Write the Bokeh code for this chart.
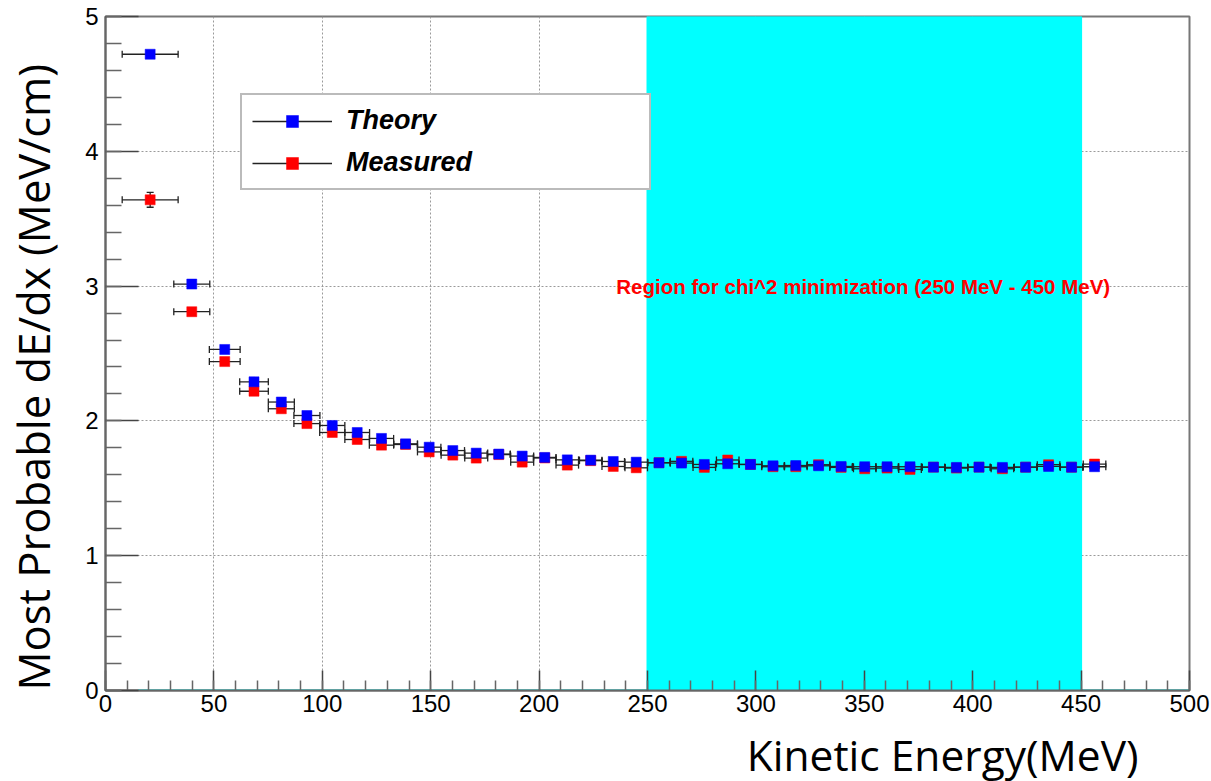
import numpy as np
from bokeh.plotting import figure
from bokeh.models import (ColumnDataSource, Label, Legend, LegendItem, Title,
                          SingleIntervalTicker, Range1d)
from bokeh.embed import file_html
from bokeh.resources import INLINE

# ---------------- data ----------------
kinetic_energy = [20.6, 39.8, 55.0, 68.5, 81.1, 92.9, 104.6, 116.1, 127.3, 138.4,
                  149.3, 160.2, 171.0, 181.4, 192.2, 202.6, 213.0, 223.8, 234.2, 244.8,
                  255.3, 265.7, 276.2, 287.0, 297.5, 307.9, 318.4, 328.9, 339.3, 350.2,
                  360.5, 371.1, 381.9, 392.5, 402.9, 413.7, 424.4, 435.0, 445.6, 456.2]
energy_halfwidth = [12.9, 8.3, 7.1, 6.6, 6.0, 6.0, 5.8, 5.7, 5.6, 5.5,
                    5.4, 5.4, 5.3, 5.3, 5.3, 5.2, 5.2, 5.2, 5.2, 5.2,
                    5.2, 5.2, 5.2, 5.2, 5.2, 5.2, 5.2, 5.2, 5.2, 5.2,
                    5.2, 5.2, 5.2, 5.2, 5.2, 5.2, 5.2, 5.2, 5.2, 5.2]
theory = [4.72, 3.015, 2.53, 2.29, 2.14, 2.04, 1.966, 1.914, 1.87, 1.83,
          1.805, 1.78, 1.761, 1.754, 1.739, 1.729, 1.711, 1.709, 1.699, 1.694,
          1.689, 1.687, 1.677, 1.682, 1.677, 1.667, 1.669, 1.667, 1.662, 1.66,
          1.66, 1.66, 1.657, 1.655, 1.657, 1.655, 1.657, 1.662, 1.657, 1.66]
theory_err = [0.0] * 40
measured = [3.64, 2.81, 2.44, 2.22, 2.09, 1.98, 1.914, 1.862, 1.82, 1.825,
            1.77, 1.746, 1.724, 1.75, 1.694, 1.725, 1.672, 1.705, 1.662, 1.652,
            1.69, 1.70, 1.655, 1.71, 1.677, 1.66, 1.66, 1.675, 1.655, 1.645,
            1.65, 1.64, 1.657, 1.65, 1.657, 1.645, 1.657, 1.675, 1.657, 1.68]
measured_err = [0.055, 0.025] + [0.02] * 38

# chi^2 region histogram (bin edges / contents)
region_edges = [15, 250, 450, 500]
region_heights = [0, 5, 0]
region_text = "Region for chi^2 minimization (250 MeV - 450 MeV)"

x_title = "Kinetic Energy(MeV)"
y_title = "Most Probable dE/dx (MeV/cm)"
x_ticks_interval = 50
y_ticks_interval = 1

# ---------------- figure ----------------
p = figure(width=1211, height=781, output_backend="svg", toolbar_location=None,
           x_range=Range1d(0, 500), y_range=Range1d(0, 5),
           min_border_left=105, min_border_right=22, min_border_top=16,
           min_border_bottom=91)
p.background_fill_color = "white"
p.border_fill_color = "white"
p.outline_line_color = "#777777"
p.outline_line_width = 2

# grid
for g in (p.xgrid, p.ygrid):
    g.grid_line_color = "#9a9a9a"
    g.grid_line_dash = "2 2"
    g.grid_line_width = 1

# axes
p.xaxis.ticker = SingleIntervalTicker(interval=x_ticks_interval, num_minor_ticks=5)
p.yaxis.ticker = SingleIntervalTicker(interval=y_ticks_interval, num_minor_ticks=5)
for ax in (p.xaxis, p.yaxis):
    ax.axis_line_color = "#666666"
    ax.axis_line_width = 2
    ax.major_tick_line_color = "#444444"
    ax.minor_tick_line_color = "#666666"
    ax.major_tick_line_width = 1.5
    ax.minor_tick_line_width = 1.5
    ax.major_tick_out = 0
    ax.minor_tick_out = 0
    ax.major_label_text_font = "Liberation Sans"
    ax.major_label_text_font_size = "24px"
    ax.major_label_text_color = "black"
    # invisible spacer label, only to push the big titles outward
    ax.axis_label = " "
    ax.axis_label_text_font_size = "1px"
p.xaxis.axis_label_standoff = 7
p.yaxis.axis_label_standoff = 15
p.xaxis.major_tick_in = 20
p.xaxis.minor_tick_in = 10
p.yaxis.major_tick_in = 33
p.yaxis.minor_tick_in = 16
p.xaxis.major_label_standoff = 4
p.yaxis.major_label_standoff = 7

# axis titles as side-panel titles (aligned like the reference)
xt = Title(text=x_title, align="right", offset=51, standoff=-4,
           vertical_align="bottom",
           text_font="Open Sans", text_font_size="42.5px", text_font_style="normal",
           text_color="black")
p.add_layout(xt, "below")
yt = Title(text=y_title, align="left", offset=0, standoff=2,
           vertical_align="bottom",
           text_font="Open Sans", text_font_size="43.5px", text_font_style="normal",
           text_color="black")
p.add_layout(yt, "left")

# chi^2 region
edges = np.array(region_edges, dtype=float)
p.quad(left=edges[:-1], right=edges[1:], bottom=[0] * len(region_heights),
       top=region_heights, fill_color="#00FFFF", line_color="#00FFFF", line_width=2)


def draw_series(yvals, yerr, color):
    x = np.array(kinetic_energy)
    xe = np.array(energy_halfwidth)
    y = np.array(yvals)
    ye = np.array(yerr)
    src = ColumnDataSource(dict(x=x, y=y, xl=x - xe, xh=x + xe, yl=y - ye, yh=y + ye))
    xbar = p.segment(x0="xl", y0="y", x1="xh", y1="y", source=src,
                     line_color="#222222", line_width=1.3)
    p.segment(x0="x", y0="yl", x1="x", y1="yh", source=src,
              line_color="#222222", line_width=1.3)
    for col in ("xl", "xh"):
        p.scatter(x=col, y="y", source=src, marker="dash", angle=np.pi / 2, size=7,
                  line_color="#222222", line_width=1.3)
    for col in ("yl", "yh"):
        p.scatter(x="x", y=col, source=src, marker="dash", size=7,
                  line_color="#222222", line_width=1.3)
    sq = p.scatter(x="x", y="y", source=src, marker="square", size=10,
                   fill_color=color, line_color=color, line_alpha=0.5)
    return xbar, sq


m_bar, m_sq = draw_series(measured, measured_err, "#FF0000")
t_bar, t_sq = draw_series(theory, theory_err, "#0000FF")

# region text
p.add_layout(Label(x=349.5, y=3.0, text=region_text, text_align="center",
                   text_baseline="middle", text_color="#FF0000",
                   text_font="Liberation Sans", text_font_style="bold",
                   text_font_size="20.5px"))

# legend
legend = Legend(items=[LegendItem(label="Theory", renderers=[t_bar, t_sq]),
                       LegendItem(label="Measured", renderers=[m_bar, m_sq])],
                location=(135, 500))
legend.padding = 10
legend.spacing = 11
legend.glyph_width = 80
legend.glyph_height = 30
legend.label_height = 30
legend.label_width = 293
legend.label_standoff = 14
legend.label_text_font = "Liberation Sans"
legend.label_text_font_style = "bold italic"
legend.label_text_font_size = "27px"
legend.label_text_color = "black"
legend.border_line_color = "#777777"
legend.border_line_width = 2
legend.background_fill_color = "white"
legend.background_fill_alpha = 1.0
p.add_layout(legend)

open("out.html", "w").write(file_html(p, INLINE))
